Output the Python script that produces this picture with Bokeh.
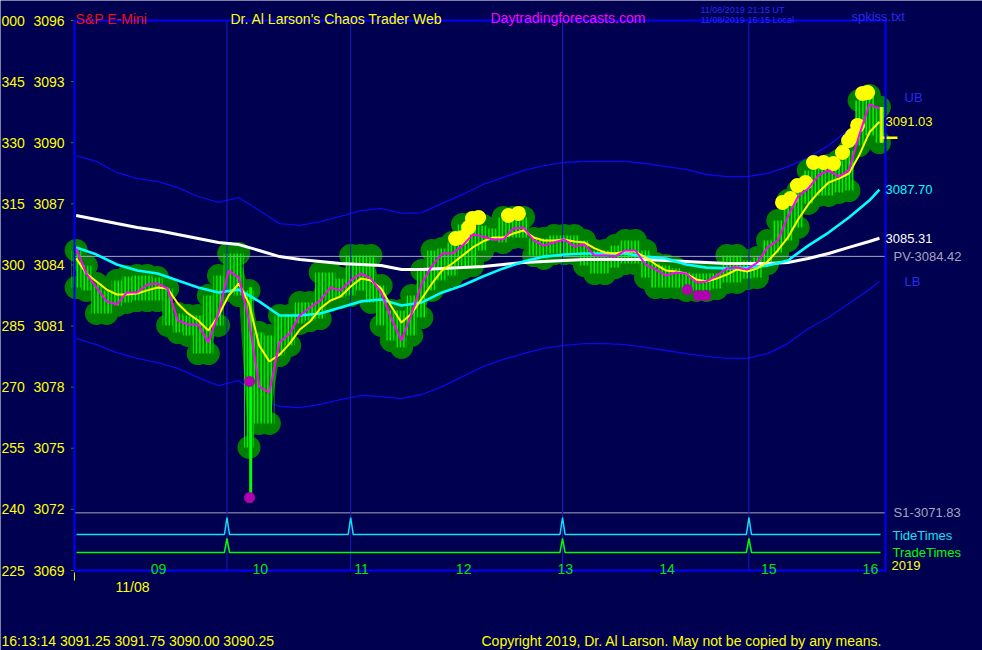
from bokeh.plotting import figure
from bokeh.models import Range1d, Label
from bokeh.embed import file_html
from bokeh.resources import INLINE

# ---------------- data (minutes after midnight, prices) ----------------
bar_minutes = list(range(498, 973, 6))          # 08:18 ... 16:12 samples
bar_high = [3084.71, 3083.97, 3083.09, 3082.75, 3083.24, 3083.43, 3083.48, 3083.48, 3083.38, 3082.84,
            3081.62, 3081.52, 3081.52, 3082.50, 3083.48, 3084.56, 3084.56, 3082.75, 3080.68, 3080.54,
            3081.52, 3081.52, 3082.16, 3082.16, 3083.63, 3083.63, 3083.33, 3084.46, 3084.46, 3084.46,
            3082.99, 3081.76, 3081.76, 3082.50, 3083.73, 3084.71, 3084.81, 3085.10, 3085.99, 3086.08,
            3085.94, 3085.79, 3086.33, 3086.33, 3086.33, 3085.30, 3085.30, 3085.45, 3085.45, 3085.45,
            3085.20, 3084.71, 3084.71, 3084.95, 3085.20, 3085.20, 3084.71, 3084.07, 3083.97, 3083.83,
            3083.63, 3083.58, 3083.58, 3083.58, 3084.46, 3084.46, 3084.22, 3084.37, 3085.20, 3086.18,
            3087.16, 3087.65, 3088.64, 3088.78, 3088.88, 3089.13, 3089.62, 3092.07, 3092.32, 3091.75]
bar_low = [3082.89, 3082.75, 3081.62, 3081.62, 3082.01, 3082.16, 3082.25, 3082.25, 3082.25, 3081.03,
           3080.68, 3080.54, 3079.65, 3079.65, 3081.03, 3082.75, 3082.50, 3075.04, 3076.22, 3076.22,
           3079.55, 3080.05, 3081.13, 3081.27, 3081.37, 3082.25, 3082.40, 3082.50, 3082.75, 3082.16,
           3081.03, 3080.29, 3079.95, 3080.54, 3081.42, 3082.75, 3083.24, 3083.48, 3083.83, 3083.97,
           3084.71, 3085.20, 3085.10, 3085.35, 3085.35, 3084.46, 3084.32, 3084.56, 3084.56, 3084.56,
           3083.97, 3083.58, 3083.58, 3083.87, 3084.07, 3084.07, 3083.38, 3082.89, 3082.89, 3082.89,
           3082.75, 3082.75, 3082.75, 3082.84, 3083.14, 3083.14, 3083.33, 3083.38, 3084.07, 3084.61,
           3085.20, 3085.84, 3087.02, 3087.41, 3087.41, 3087.56, 3087.65, 3089.86, 3090.35, 3090.00]
fast_avg = [3084.81, 3083.58, 3082.89, 3082.21, 3082.06, 3082.65, 3082.65, 3083.04, 3083.09, 3082.84,
            3081.27, 3081.08, 3081.08, 3080.19, 3081.62, 3083.73, 3083.38, 3081.27, 3078.03, 3077.74,
            3080.19, 3080.63, 3081.52, 3081.91, 3082.25, 3082.89, 3082.75, 3083.24, 3083.58, 3083.33,
            3082.65, 3081.37, 3080.29, 3081.62, 3083.09, 3083.97, 3084.56, 3084.56, 3084.95, 3085.49,
            3085.40, 3085.25, 3085.25, 3085.79, 3085.84, 3085.20, 3084.95, 3085.10, 3085.25, 3084.91,
            3085.00, 3084.46, 3084.46, 3084.41, 3084.71, 3084.71, 3084.02, 3083.78, 3083.48, 3083.63,
            3083.58, 3083.14, 3083.19, 3083.48, 3083.83, 3083.87, 3083.78, 3084.12, 3084.86, 3085.20,
            3086.38, 3087.36, 3087.75, 3088.39, 3088.64, 3088.34, 3088.64, 3090.35, 3091.88, 3091.68]
slow_avg = [3084.32, 3083.58, 3083.19, 3082.79, 3082.55, 3082.55, 3082.60, 3082.75, 3082.89, 3082.84,
            3082.11, 3081.62, 3081.27, 3080.78, 3081.52, 3082.50, 3083.09, 3082.11, 3080.05, 3079.26,
            3079.60, 3080.14, 3080.83, 3081.22, 3081.86, 3082.25, 3082.45, 3082.94, 3083.33, 3083.24,
            3082.84, 3081.96, 3081.17, 3081.62, 3082.35, 3083.09, 3083.73, 3084.07, 3084.46, 3084.86,
            3085.15, 3085.35, 3085.35, 3085.54, 3085.69, 3085.35, 3085.20, 3085.20, 3085.25, 3085.15,
            3085.10, 3084.81, 3084.61, 3084.56, 3084.66, 3084.66, 3084.37, 3084.02, 3083.73, 3083.68,
            3083.58, 3083.29, 3083.19, 3083.33, 3083.53, 3083.78, 3083.68, 3083.83, 3084.17, 3084.71,
            3085.35, 3086.23, 3086.97, 3087.56, 3088.05, 3088.24, 3088.49, 3089.37, 3090.50, 3091.03]

smooth_minutes = list(range(498, 967, 12)) + [972]
cyan_avg = [3084.86, 3084.51, 3084.02, 3083.73, 3083.58, 3083.24, 3082.89, 3082.65, 3082.79, 3082.21,
            3081.52, 3081.52, 3081.62, 3081.91, 3082.21, 3082.30, 3082.01, 3082.16, 3082.65, 3082.99,
            3083.43, 3083.83, 3084.17, 3084.41, 3084.51, 3084.56, 3084.56, 3084.56, 3084.41, 3084.32,
            3084.02, 3083.87, 3083.83, 3083.87, 3083.97, 3084.22, 3084.95, 3085.59, 3086.33, 3087.16,
            3087.70]
white_avg = [3086.43, 3086.23, 3086.03, 3085.84, 3085.69, 3085.49, 3085.30, 3085.10, 3085.00, 3084.71,
             3084.41, 3084.27, 3084.17, 3084.07, 3084.02, 3083.97, 3083.78, 3083.78, 3083.83, 3083.87,
             3083.92, 3084.02, 3084.12, 3084.17, 3084.22, 3084.27, 3084.27, 3084.27, 3084.27, 3084.22,
             3084.17, 3084.12, 3084.07, 3084.07, 3084.07, 3084.12, 3084.32, 3084.56, 3084.86, 3085.15,
             3085.31]
upper_band = [3089.37, 3089.08, 3088.54, 3088.24, 3088.10, 3087.80, 3087.36, 3087.07, 3087.31, 3086.67,
              3086.03, 3085.94, 3086.13, 3086.38, 3086.67, 3086.77, 3086.53, 3086.57, 3087.02, 3087.46,
              3087.95, 3088.29, 3088.64, 3088.88, 3089.03, 3089.08, 3089.08, 3089.08, 3088.98, 3088.83,
              3088.69, 3088.44, 3088.34, 3088.34, 3088.49, 3088.83, 3089.27, 3089.86, 3090.65, 3091.70,
              3092.20]
lower_band = [3080.39, 3080.09, 3079.70, 3079.41, 3079.21, 3078.92, 3078.47, 3078.08, 3078.33, 3077.44,
              3077.05, 3077.00, 3077.15, 3077.39, 3077.59, 3077.54, 3077.44, 3077.64, 3078.03, 3078.52,
              3079.01, 3079.36, 3079.65, 3079.90, 3080.05, 3080.14, 3080.14, 3080.09, 3079.95, 3079.80,
              3079.65, 3079.51, 3079.41, 3079.41, 3079.65, 3080.14, 3080.88, 3081.42, 3082.11, 3082.79,
              3083.19]

spike_minute = 601
spike_high = 3082.90
spike_low = 3072.58

top_kiss_minutes = [721.9, 726.0, 729.6, 731.9, 735.5, 753.1, 759.0, 914.8, 919.5, 923.6,
                    928.4, 933.1, 939.0, 944.9, 950.2, 953.8, 956.1, 959.1, 962.0, 965.0]
top_kiss_prices = [3085.30, 3085.35, 3085.84, 3086.28, 3086.33, 3086.43, 3086.53, 3087.07, 3087.26, 3087.90,
                   3088.05, 3089.03, 3089.03, 3088.98, 3089.52, 3090.11, 3090.35, 3090.85, 3092.42, 3092.46]
bottom_kiss_minutes = [600.3, 600.3, 858.7, 865.2, 869.4]
bottom_kiss_prices = [3078.28, 3072.58, 3082.79, 3082.50, 3082.50]

tide_minutes = [587, 660, 785, 895]
trade_minutes = [587, 785, 895]
pivot_value = 3084.42
support_value = 3071.83

session_start, session_end = 497.0, 975.6
price_low, price_high = 3069, 3096

last_bar_minute = 973.2
last_time = "16:13:14"
last_ohlc = [3091.25, 3091.75, 3090.00, 3090.25]

price_ticks = [3096, 3093, 3090, 3087, 3084, 3081, 3078, 3075, 3072, 3069]
angle_labels = ["000", "345", "330", "315", "300", "285", "270", "255", "240", "225"]
hour_minutes = [540, 600, 660, 720, 780, 840, 900, 960]
hour_labels = ["09", "10", "11", "12", "13", "14", "15", "16"]
date_label = "11/08"
year_label = "2019"

# ---------------- style / layout ----------------
BG = "#000050"
YELLOW = "#ffff00"
MAGENTA = "#ff00ff"
CYAN = "#00ffff"
LTGREEN = "#00ff00"
DKGREEN = "#008000"
BAND = "#0a0ae6"
GRAY = "#a4a4bc"
VLINE = "#1c1cc0"
BLUE_TXT = "#2a2aee"
FONT = "Liberation Sans"

W, H = 982, 650
PX_PER_MIN = 1.6947          # horizontal scale
HOUR10_X = 248.5             # pixel of 10:00
PX_PER_PT = 550 / 27         # vertical scale
TOP_Y = 20                   # pixel of the top price
X_START = 600 - HOUR10_X / PX_PER_MIN
X_END = X_START + W / PX_PER_MIN
Y_TOP = price_high + TOP_Y / PX_PER_PT
Y_BOTTOM = Y_TOP - H / PX_PER_PT


def wx(x):
    return X_START + x / PX_PER_MIN


def wy(y):
    return Y_TOP - y / PX_PER_PT


p = figure(width=W, height=H, x_range=Range1d(X_START, X_END), y_range=Range1d(Y_BOTTOM, Y_TOP),
           output_backend="svg", toolbar_location=None,
           x_axis_type=None, y_axis_type=None,
           min_border=0, min_border_left=0, min_border_right=0, min_border_top=0, min_border_bottom=0,
           background_fill_color=BG, border_fill_color=BG, outline_line_color=None)

# bands (behind the price blob)
p.line(smooth_minutes, upper_band, line_color=BAND, line_width=1.3)
p.line(smooth_minutes, lower_band, line_color=BAND, line_width=1.3)

# dark green "kiss" blob
p.varea(x=bar_minutes, y1=bar_low, y2=bar_high, fill_color=DKGREEN)
p.scatter(bar_minutes, bar_high, size=23, marker="circle", fill_color=DKGREEN, line_color=None)
p.scatter(bar_minutes, bar_low, size=23, marker="circle", fill_color=DKGREEN, line_color=None)

# horizontal levels
p.line([session_start, session_end], [pivot_value, pivot_value], line_color=GRAY, line_width=1)
p.line([session_start, session_end], [support_value, support_value], line_color=GRAY, line_width=1)

# price bars (striped like one-minute bars)
p.vbar(x=bar_minutes, top=bar_high, bottom=bar_low, width=6, fill_color=None, line_color=None,
       hatch_pattern="vertical_line", hatch_color=LTGREEN, hatch_scale=3.4, hatch_weight=1.4)
p.segment(x0=[spike_minute], y0=[spike_high], x1=[spike_minute], y1=[spike_low],
          line_color=LTGREEN, line_width=3)

# tide verticals
p.segment(x0=tide_minutes, y0=[price_low] * len(tide_minutes), x1=tide_minutes,
          y1=[price_high] * len(tide_minutes), line_color=VLINE, line_width=1)


def strip(times, base, peak, half=1.5):
    xs, ys = [wx(76)], [base]
    for t in times:
        xs += [t - half, t, t + half]
        ys += [base, base + peak, base]
    xs.append(wx(880))
    ys.append(base)
    return xs, ys


tx, ty = strip(tide_minutes, wy(534), 17 / PX_PER_PT)
p.line(tx, ty, line_color="#10e0f0", line_width=1.5)
gx, gy = strip(trade_minutes, wy(552), 14 / PX_PER_PT)
p.line(gx, gy, line_color=LTGREEN, line_width=1.5)

# kiss markers
p.scatter(top_kiss_minutes, top_kiss_prices, size=15, marker="circle", fill_color=YELLOW, line_color=None)
p.scatter(bottom_kiss_minutes, bottom_kiss_prices, size=11, marker="circle", fill_color="#b000b0",
          line_color=None)

# averages
p.line(smooth_minutes, white_avg, line_color="#ffffff", line_width=3)
p.line(smooth_minutes, cyan_avg, line_color=CYAN, line_width=2.6)
p.line(bar_minutes, slow_avg, line_color=YELLOW, line_width=2)
p.line(bar_minutes, fast_avg, line_color=MAGENTA, line_width=2)

# last bar (high-low with close tick)
p.segment(x0=[last_bar_minute], y0=[last_ohlc[1]], x1=[last_bar_minute], y1=[last_ohlc[2]],
          line_color=YELLOW, line_width=2.5)
p.segment(x0=[last_bar_minute], y0=[last_ohlc[3]], x1=[last_bar_minute + 16 / PX_PER_MIN],
          y1=[last_ohlc[3]], line_color=YELLOW, line_width=2.5)

# plot frame and ticks
p.quad(left=[session_start], right=[session_end], bottom=[price_low], top=[price_high],
       fill_color=None, line_color="#0000ff", line_width=2)
p.segment(x0=[wx(70.5)] * len(price_ticks), y0=price_ticks, x1=[wx(73)] * len(price_ticks),
          y1=price_ticks, line_color="#00a000", line_width=1)
p.segment(x0=hour_minutes[1:], y0=[wy(572)] * 7, x1=hour_minutes[1:], y1=[wy(580)] * 7,
          line_color="#000000", line_width=1)
p.segment(x0=[session_start], y0=[wy(572)], x1=[session_start], y1=[wy(580)],
          line_color=YELLOW, line_width=1)


def lab(text, x, y, color, size="14px", x_offset=0):
    p.add_layout(Label(x=x, y=y, text=text, text_color=color, text_font=FONT,
                       text_font_size=size, text_align="left", text_baseline="alphabetic",
                       x_offset=x_offset))


# left scale
for v, a in zip(price_ticks, angle_labels):
    lab(a, wx(1), v, YELLOW)
    lab(str(v), wx(33), v, YELLOW)

# header
lab("S&P E-Mini", wx(75), wy(18), "#ee1010")
lab("Dr. Al Larson's Chaos Trader Web", wx(230), wy(18), YELLOW)
lab("Daytradingforecasts.com", wx(490), wy(17.5), MAGENTA)
lab("11/08/2019 21:15 UT", wx(700), wy(9.5), BLUE_TXT, "9px")
lab("11/08/2019 16:15 Local", wx(700), wy(19.5), BLUE_TXT, "9px")
lab("spkiss.txt", wx(851), wy(15.5), BLUE_TXT, "13px")

# right labels
lab("UB", wx(904), upper_band[-1], BLUE_TXT, "13px")
lab(f"{slow_avg[-1]:.2f}", wx(885), slow_avg[-1], YELLOW, "13px")
lab(f"{cyan_avg[-1]:.2f}", wx(885), cyan_avg[-1], CYAN, "13px")
lab(f"{white_avg[-1]:.2f}", wx(885), white_avg[-1], "#ffffff", "13px")
lab(f"PV-{pivot_value:.2f}", wx(893), pivot_value, GRAY, "13px")
lab("LB", wx(904), lower_band[-1], BLUE_TXT, "13px")
lab(f"S1-{support_value:.2f}", wx(893), support_value, GRAY, "13px")
lab("TideTimes", wx(892), wy(535), "#10e0f0", "13px")
lab("TradeTimes", wx(892), wy(552), LTGREEN, "13px")
lab(year_label, wx(891), wy(565), YELLOW, "13px")

# hour labels
for m, h in zip(hour_minutes, hour_labels):
    lab(h, m, wy(568), "#00e600", "14px", x_offset=3.5)
lab(date_label, wx(115), wy(586), YELLOW)

# footer
footer = f"{last_time}  " + " ".join(f"{v:.2f}" for v in last_ohlc)
lab(footer, wx(1), wy(640), YELLOW)
lab("Copyright 2019, Dr. Al Larson. May not be copied by any means.", wx(481), wy(640), YELLOW)

open("out.html", "w").write(file_html(p, INLINE))
